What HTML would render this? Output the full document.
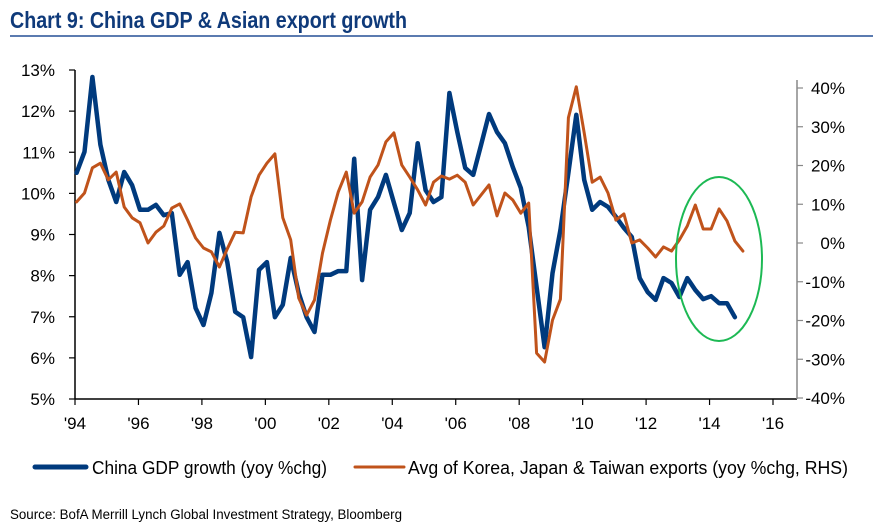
<!DOCTYPE html>
<html><head><meta charset="utf-8"><style>
body{margin:0;background:#fff;}
svg text{font-family:"Liberation Sans Narrow","Liberation Sans",sans-serif;}
</style></head><body>
<svg id="chart" width="873" height="527" viewBox="0 0 873 527" xmlns="http://www.w3.org/2000/svg">
<text x="10" y="28" font-size="23" font-weight="bold" fill="#0f3a7a" textLength="397" lengthAdjust="spacingAndGlyphs">Chart 9: China GDP &amp; Asian export growth</text>
<line x1="10" y1="36" x2="873" y2="36" stroke="#5b7bb0" stroke-width="2"/>
<g id="axes"></g>
<g id="series"></g>
<ellipse cx="719" cy="259" rx="43" ry="82" fill="none" stroke="#1db954" stroke-width="2"/>
<g>
<line x1="35" y1="467" x2="86" y2="467" stroke="#003a7d" stroke-width="5" stroke-linecap="round"/>
<text x="92" y="474" font-size="18" textLength="235" lengthAdjust="spacingAndGlyphs">China GDP growth (yoy %chg)</text>
<line x1="355" y1="467" x2="404" y2="467" stroke="#c0531b" stroke-width="3" stroke-linecap="round"/>
<text x="408" y="474" font-size="18" textLength="440" lengthAdjust="spacingAndGlyphs">Avg of Korea, Japan &amp; Taiwan exports (yoy %chg, RHS)</text>
</g>
<text x="10" y="519" font-size="13.5" textLength="392" lengthAdjust="spacingAndGlyphs">Source: BofA Merrill Lynch  Global Investment Strategy, Bloomberg</text>
</svg>
<script>
const xTickLabels=["'94","'96","'98","'00","'02","'04","'06","'08","'10","'12","'14","'16"];
const xTickYears=[1994,1996,1998,2000,2002,2004,2006,2008,2010,2012,2014,2016];
const leftTicks=[5,6,7,8,9,10,11,12,13];
const rightTicks=[-40,-30,-20,-10,0,10,20,30,40];
const startYear=1994.05;
const stepYears=0.25;
const gdpGrowth=[10.50,11.01,12.83,11.18,10.33,9.79,10.52,10.20,9.60,9.60,
9.72,9.47,9.52,8.02,8.33,7.21,6.80,7.58,9.04,8.33,
7.12,6.99,6.02,8.14,8.33,6.99,7.29,8.43,7.58,6.99,
6.63,8.02,8.02,8.11,8.11,10.84,7.89,9.60,9.91,10.45,
9.77,9.11,9.52,11.22,10.08,9.79,9.91,12.44,11.49,10.62,
10.45,11.18,11.93,11.49,11.22,10.64,10.13,9.18,7.72,6.26,
8.06,9.11,10.50,11.91,10.33,9.60,9.79,9.67,9.43,9.16,
8.94,7.94,7.60,7.41,7.94,7.82,7.48,7.94,7.65,7.43,
7.50,7.33,7.33,6.99];
const exportGrowth=[10.6,12.9,19.4,20.6,16.3,18.3,9.3,6.5,5.2,0.0,
2.8,4.4,9.0,10.1,5.9,1.3,-1.3,-2.3,-6.2,-1.5,
2.8,2.6,11.9,17.5,20.6,23.0,6.5,0.8,-14.2,-18.6,
-14.7,-2.6,5.9,13.2,18.3,7.7,10.6,17.0,20.1,26.1,
28.4,20.1,17.0,13.7,9.8,15.7,17.3,16.5,17.5,15.7,
9.8,12.4,15.0,7.0,12.9,11.1,7.7,10.3,-28.4,-30.7,
-19.9,-14.5,32.3,40.3,28.4,15.7,17.0,12.9,5.9,7.5,
0.0,0.8,-1.3,-3.6,-1.0,-2.1,0.8,4.4,9.8,3.6,
3.6,8.8,5.7,0.5,-2.1];

const NS='http://www.w3.org/2000/svg';
const X0=75,X1=773,YT=70,YB=399,RX=797;
const xs=y=>X0+(y-1994)/(2016-1994)*(X1-X0);
const yl=v=>YB-(v-5)/(13-5)*(YB-YT);
const yr=v=>398-(v+40)/80*(398-88);
function mk(tag,attrs,parent){const e=document.createElementNS(NS,tag);for(const k in attrs)e.setAttribute(k,attrs[k]);parent.appendChild(e);return e;}
const axes=document.getElementById('axes');
let e=mk('line',{x1:X0,y1:YT,x2:X0,y2:YB,stroke:'#000','stroke-width':1.5},axes);


e=mk('line',{x1:X0,y1:YB,x2:RX,y2:YB,stroke:'#000','stroke-width':1.5},axes);


e=mk('line',{x1:RX,y1:80,x2:RX,y2:YB,stroke:'#888','stroke-width':1.5},axes);


leftTicks.forEach(v=>{const y=yl(v);
 e=mk('line',{x1:X0-6,y1:y,x2:X0,y2:y,stroke:'#000','stroke-width':1.2},axes);
 
 
 e=mk('text',{x:55,y:y+6,'font-size':17,'text-anchor':'end'},axes);e.textContent=v+'%';
 
 });
rightTicks.forEach(v=>{const y=yr(v);
 e=mk('line',{x1:RX,y1:y,x2:RX+6,y2:y,stroke:'#888','stroke-width':1.2},axes);
 
 
 e=mk('text',{x:845,y:y+6,'font-size':17,'text-anchor':'end'},axes);e.textContent=v+'%';
 
 });
xTickYears.forEach((yv,i)=>{const x=xs(yv);
 e=mk('line',{x1:x,y1:YB,x2:x,y2:YB+6,stroke:'#000','stroke-width':1.2},axes);
 
 
 e=mk('text',{x:x,y:YB+30,'font-size':17,'text-anchor':'middle'},axes);e.textContent=xTickLabels[i];
 
 });
const series=document.getElementById('series');
const p1=gdpGrowth.map((v,i)=>xs(startYear+i*stepYears).toFixed(1)+','+yl(v).toFixed(1)).join(' ');
e=mk('polyline',{points:p1,fill:'none',stroke:'#003a7d','stroke-width':4.5,'stroke-linejoin':'round','stroke-linecap':'round'},series);


const p2=exportGrowth.map((v,i)=>xs(startYear+i*stepYears).toFixed(1)+','+yr(v).toFixed(1)).join(' ');
e=mk('polyline',{points:p2,fill:'none',stroke:'#c0531b','stroke-width':3,'stroke-linejoin':'round','stroke-linecap':'round'},series);


</script>
</body></html>
